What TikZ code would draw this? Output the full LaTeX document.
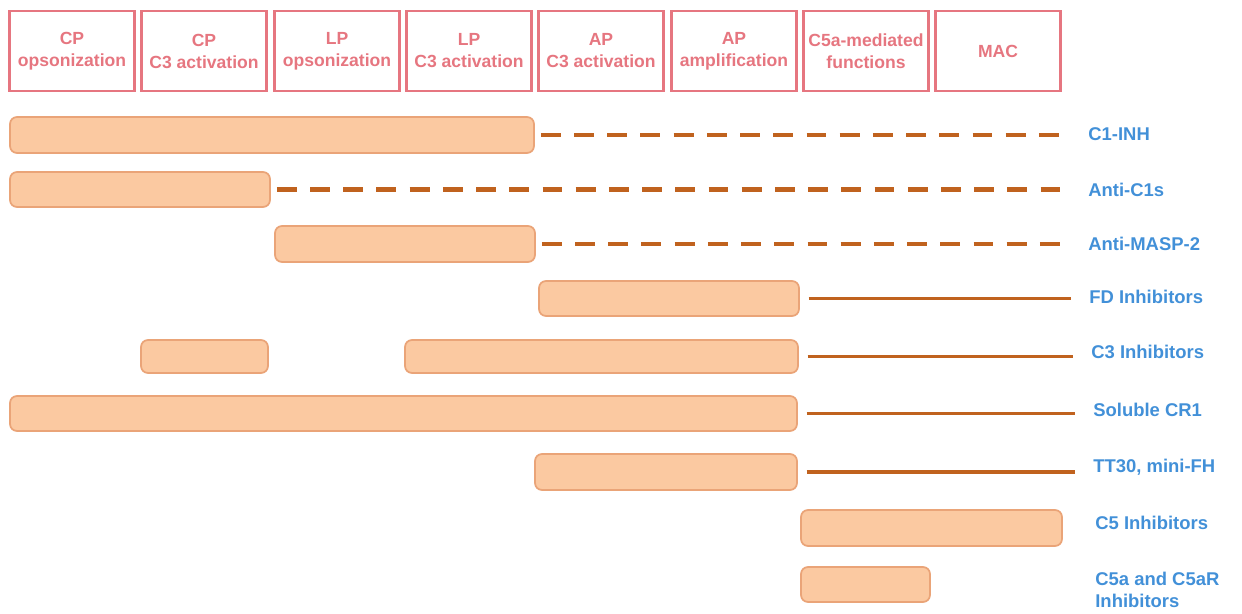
\documentclass[tikz,border=0pt]{standalone}
\usepackage{fontspec}
\setmainfont{Liberation Sans}
\usetikzlibrary{calc,positioning,fit}
\definecolor{headred}{RGB}{230,118,128}
\definecolor{barfill}{RGB}{251,201,161}
\definecolor{bardraw}{RGB}{234,164,120}
\definecolor{linebrown}{RGB}{192,98,30}
\definecolor{lblblue}{RGB}{66,144,216}
\begin{document}
\begin{tikzpicture}[x=0.02cm, y=-0.02cm,
  head/.style={rectangle, draw=headred, line width=1.6pt, text=headred, minimum width=2.5cm, minimum height=1.6cm, inner sep=0pt, align=center, font=\fontsize{10}{12.5}\selectfont\bfseries},
  bar/.style={rectangle, rounded corners=4pt, fill=barfill, draw=bardraw, line width=1pt, inner sep=0pt},
  lbl/.style={anchor=west, inner sep=0pt, text=lblblue, align=left, font=\fontsize{10.5}{12.5}\selectfont\bfseries},
  dashline/.style={draw=linebrown, line width=2.4pt, dash pattern=on 11.3pt off 7.6pt, shorten <=3.4pt, shorten >=14.5pt},
  solidline/.style={draw=linebrown, line width=2pt, shorten <=5pt, shorten >=10.5pt}]
\useasboundingbox (0,0) rectangle (1242,614);

% pathway steps
\node[head] (cpops) at (72,51) {CP\\opsonization};
\node[head] (cpc3) at (204,51) {CP\\C3 activation};
\node[head] (lpops) at (337,51) {LP\\opsonization};
\node[head] (lpc3) at (469,51) {LP\\C3 activation};
\node[head] (apc3) at (601,51) {AP\\C3 activation};
\node[head] (apamp) at (734,51) {AP\\amplification};
\node[head] (c5a) at (866,51) {C5a-mediated\\functions};
\node[head] (mac) at (998,51) {MAC};

% inhibitors
\node[lbl] (c1inh) at (1088,134) {C1-INH};
\node[lbl] (antic1s) at (1088,190) {Anti-C1s};
\node[lbl] (antimasp) at (1088,244) {Anti-MASP-2};
\node[lbl] (fdinh) at (1089,297) {FD Inhibitors};
\node[lbl] (c3inh) at (1091,352) {C3 Inhibitors};
\node[lbl] (scr1) at (1093,410) {Soluble CR1};
\node[lbl] (tt30) at (1093,467) {TT30, mini-FH};
\node[lbl] (c5inh) at (1095,523) {C5 Inhibitors};
\node[lbl] (c5ainh) at (1095,590) {C5a and C5aR\\Inhibitors};

% bars
\node[bar, fit={(10,117) (534,153)}] (bc1inh) {};
\node[bar, fit={(10,172) (270,207)}] (bantic1s) {};
\node[bar, fit={(275,226) (535,262)}] (bantimasp) {};
\node[bar, fit={(539,281) (799,316)}] (bfdinh) {};
\node[bar, fit={(141,340) (268,373)}] (bc3inha) {};
\node[bar, fit={(405,340) (798,373)}] (bc3inh) {};
\node[bar, fit={(10,396) (797,431)}] (bscr1) {};
\node[bar, fit={(535,454) (797,490)}] (btt30) {};
\node[bar, fit={(801,510) (1062,546)}] (bc5inh) {};
\node[bar, fit={(801,567) (930,602)}] (bc5ainh) {};

\draw[dashline] (bc1inh.east) -- (bc1inh.east -| c1inh.west);
\draw[dashline] (bantic1s.east) -- (bantic1s.east -| antic1s.west);
\draw[dashline] (bantimasp.east) -- (bantimasp.east -| antimasp.west);
\draw[solidline] (bfdinh.east) -- (bfdinh.east -| fdinh.west);
\draw[solidline] (bc3inh.east) -- (bc3inh.east -| c3inh.west);
\draw[solidline] (bscr1.east) -- (bscr1.east -| scr1.west);
\draw[solidline] (btt30.east) -- (btt30.east -| tt30.west);
\end{tikzpicture}
\end{document}
